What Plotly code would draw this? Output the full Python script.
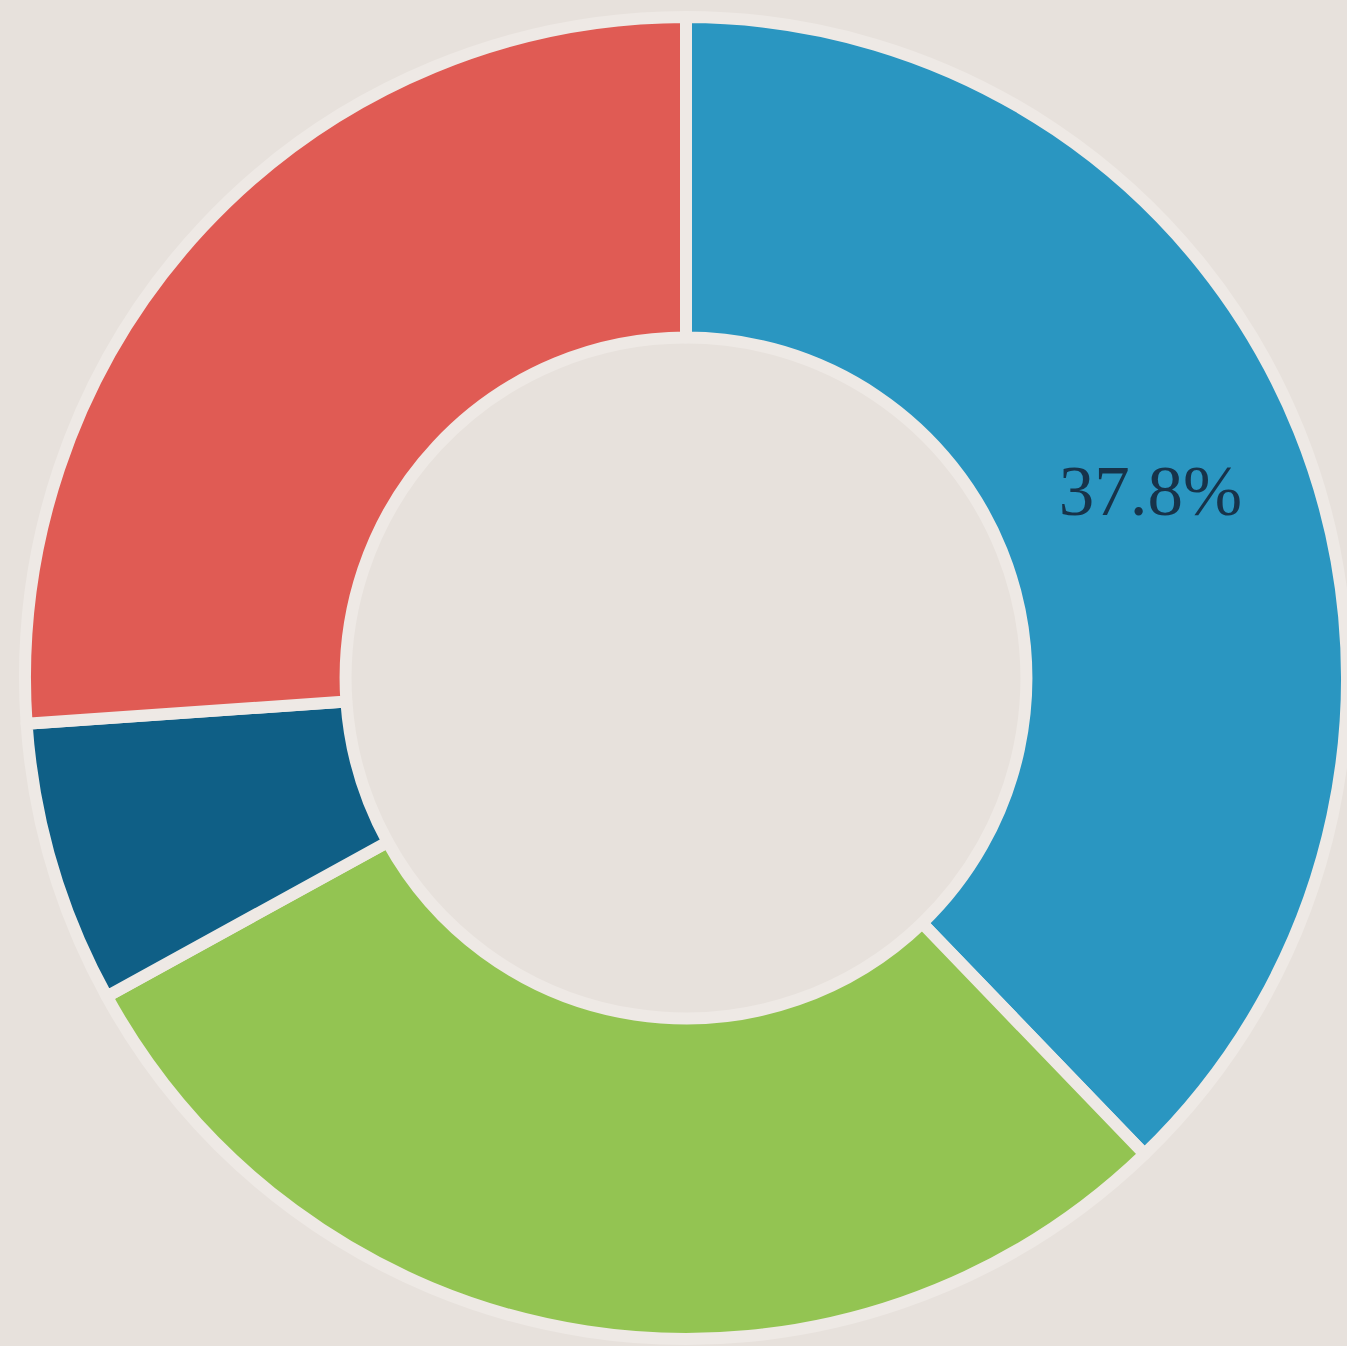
import plotly.graph_objects as go

labels = ["A", "B", "C", "D"]
values = [37.8, 29.2, 6.9, 26.1]
colors = ["#2A96C1", "#93C452", "#0F5F86", "#E05B54"]
shown_labels = ["%{percent:.1%}", "", "", ""]

W, H = 1347, 1346
cx, cy, r = 687, 678, 662  # pixel center / radius

fig = go.Figure(go.Pie(
    labels=labels,
    values=values,
    hole=0.515,
    sort=False,
    direction="clockwise",
    rotation=0,
    marker=dict(colors=colors, line=dict(color="#EEE9E5", width=12)),
    texttemplate=shown_labels,
    textposition="inside",
    insidetextorientation="horizontal",
    insidetextfont=dict(family="Liberation Serif, Times New Roman, serif", size=71, color="#17334A"),
    showlegend=False,
    domain=dict(x=[max(0, (cx - r) / W), min(1, (cx + r) / W)], y=[(H - cy - r) / H, (H - cy + r) / H]),
))

fig.update_layout(
    width=W, height=H,
    margin=dict(l=0, r=0, t=0, b=0),
    paper_bgcolor="#E7E1DC",
    plot_bgcolor="#E7E1DC",
)

fig.write_html("out.html")
